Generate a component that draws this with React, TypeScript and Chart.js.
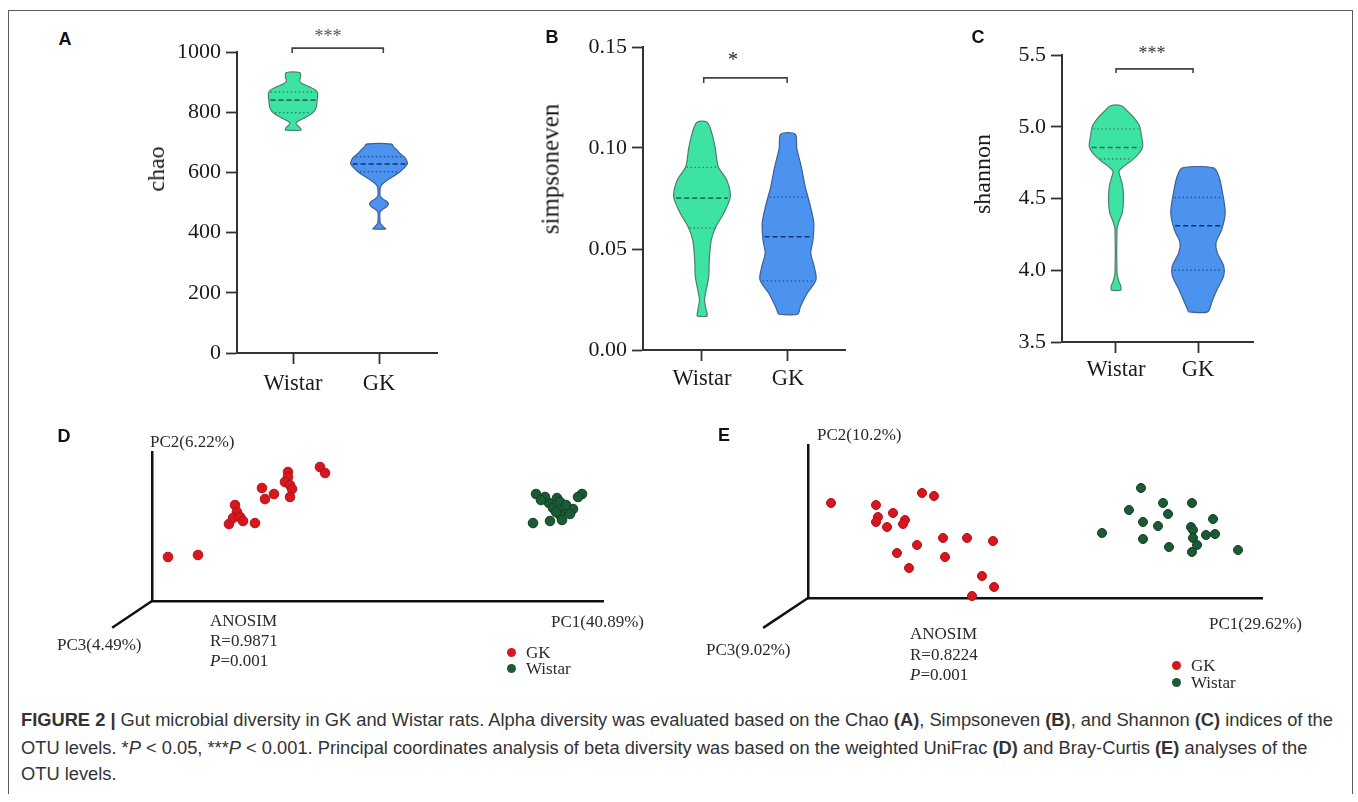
import React, { useEffect, useRef } from 'react';
import { Chart, registerables } from 'chart.js';
Chart.register(...registerables);

const SERIF = "'Liberation Serif', 'Times New Roman', Times, serif";
const SANS = "'Liberation Sans', Arial, Helvetica, sans-serif";

// ---------- shared categories ----------
const groups = ['Wistar', 'GK'];
const groupPositions = [1, 2];

// ---------- Panel A : chao ----------
const chaoTicks = [0, 200, 400, 600, 800, 1000];
const chaoTickLabels = ['0', '200', '400', '600', '800', '1000'];
const chaoWistarLevels = [740, 748, 756, 764, 772, 782, 795, 807, 820, 835, 850, 865, 875, 885, 895, 905, 915, 931];
const chaoWistarDensity = [8, 7, 4.5, 3, 6, 12, 18.5, 22, 23.5, 24, 24.5, 24.5, 22, 16, 9, 6.5, 7.5, 7];
const chaoWistarQuartiles = [798, 840, 867];
const chaoGkLevels = [412, 420, 430, 440, 468, 477, 486, 495, 504, 513, 522, 540, 556, 566, 575, 591, 608, 628, 640, 652, 663, 674, 685, 694];
const chaoGkDensity = [6.5, 4, 1.5, 1, 1, 3.5, 7.5, 9.5, 7.5, 3.5, 1.2, 1, 2, 5, 8.5, 16.5, 23, 28.3, 27.5, 25, 21, 18, 14.5, 12.8];
const chaoGkQuartiles = [602, 628, 652];
const chaoBracketX = [0.99, 2.05];
const chaoBracketY = [1013, 997];

// ---------- Panel B : simpsoneven ----------
const simpsonTicks = [0, 0.05, 0.1, 0.15];
const simpsonTickLabels = ['0.00', '0.05', '0.10', '0.15'];
const simpsonWistarLevels = [0.0168, 0.0198, 0.0248, 0.0297, 0.0363, 0.0446, 0.0545, 0.0611, 0.0677, 0.0759, 0.0842, 0.0907, 0.0998, 0.107, 0.1127];
const simpsonWistarDensity = [5, 4.2, 2.5, 4.2, 6.7, 7.3, 9.3, 14, 21.7, 28.3, 24.7, 16.3, 13.3, 10, 5];
const simpsonWistarQuartiles = [0.0604, 0.0752, 0.0904];
const simpsonGkLevels = [0.0177, 0.0215, 0.0281, 0.0347, 0.0413, 0.0479, 0.0545, 0.0627, 0.071, 0.0809, 0.0907, 0.0998, 0.1068];
const simpsonGkDensity = [9.5, 12.5, 19.2, 28, 26.2, 22.8, 25, 25.8, 22.5, 17.2, 13.3, 8.8, 7.2];
const simpsonGkQuartiles = [0.0342, 0.0561, 0.0757];
const simpsonBracketX = [1.02, 1.99];
const simpsonBracketY = [0.1347, 0.1322];

// ---------- Panel C : shannon ----------
const shannonTicks = [3.5, 4.0, 4.5, 5.0, 5.5];
const shannonTickLabels = ['3.5', '4.0', '4.5', '5.0', '5.5'];
const shannonWistarLevels = [3.861, 3.891, 3.926, 3.984, 4.285, 4.331, 4.401, 4.493, 4.585, 4.644, 4.69, 4.724, 4.771, 4.817, 4.863, 4.933, 5.002, 5.06, 5.106, 5.146];
const shannonWistarDensity = [4.7, 4.7, 2.7, 1, 1, 2.5, 6.3, 7.5, 6.7, 4.5, 3, 7.8, 16.7, 23.3, 26.7, 25.5, 23.7, 18.3, 11.7, 5.5];
const shannonWistarQuartiles = [4.775, 4.855, 4.985];
const shannonGkLevels = [3.71, 3.787, 3.868, 3.961, 4.03, 4.123, 4.192, 4.285, 4.401, 4.54, 4.655, 4.713];
const shannonGkDensity = [9.5, 14.2, 19.2, 25.7, 25.7, 19.2, 18, 23.8, 27.2, 24.5, 20.8, 15.5];
const shannonGkQuartiles = [4.0, 4.31, 4.507];
const shannonBracketX = [1.0, 1.94];
const shannonBracketY = [5.403, 5.375];

// ---------- Panel D : weighted UniFrac PCoA ----------
const unifracGkPC1 = [-0.2787, -0.2388, -0.1976, -0.1896, -0.187, -0.1922, -0.1829, -0.1789, -0.163, -0.1537, -0.1497, -0.1377, -0.1191, -0.1191, -0.1231, -0.1164, -0.1137, -0.1164, -0.0765, -0.0698];
const unifracGkPC2 = [-0.0614, -0.0574, 0.005, 0.0433, 0.0292, 0.0171, 0.0191, 0.0111, 0.007, 0.0775, 0.0553, 0.0654, 0.1097, 0.0996, 0.0896, 0.0835, 0.0755, 0.0594, 0.1198, 0.1077];
const unifracWistarPC1 = [0.2109, 0.2721, 0.2388, 0.2282, 0.2428, 0.2335, 0.2468, 0.2601, 0.2428, 0.2295, 0.2069, 0.2228, 0.2508, 0.2375, 0.2561, 0.2175, 0.2668, 0.2455];
const unifracWistarPC2 = [0.0654, 0.0654, 0.0573, 0.0473, 0.0493, 0.0372, 0.0332, 0.0352, 0.0231, 0.0111, 0.007, 0.0594, 0.0433, 0.0292, 0.0252, 0.0533, 0.0594, 0.0131];
const unifracRange = { x: [-0.3, 0.3], y: [-0.15, 0.15] };
const unifracPC3End = { x: -0.353, y: -0.204 };

// ---------- Panel E : Bray-Curtis PCoA ----------
const brayGkPC1 = [-0.3595, -0.2802, -0.2767, -0.2802, -0.2608, -0.2502, -0.2291, -0.2326, -0.1991, -0.178, -0.1621, -0.1198, -0.074, -0.2079, -0.2432, -0.1586, -0.222, -0.0934, -0.0722, -0.111];
const brayGkPC2 = [0.0484, 0.0431, 0.0118, -0.0013, -0.0144, 0.0222, 0.0039, -0.0065, 0.0745, 0.0667, -0.0431, -0.0431, -0.051, -0.0614, -0.0824, -0.0928, -0.1216, -0.1425, -0.1712, -0.1948];
const brayWistarPC1 = [0.1868, 0.2256, 0.2766, 0.1656, 0.2344, 0.3137, 0.1903, 0.2167, 0.2749, 0.2784, 0.1181, 0.3013, 0.3172, 0.2784, 0.1903, 0.2855, 0.2361, 0.2766, 0.3577];
const brayWistarPC2 = [0.0876, 0.0484, 0.0484, 0.0301, 0.0196, 0.0065, -0.0013, -0.0118, -0.0144, -0.0222, -0.0301, -0.0353, -0.0327, -0.0431, -0.0458, -0.0614, -0.0667, -0.0797, -0.0745];
const brayRange = { x: [-0.4, 0.4], y: [-0.2, 0.2] };
const brayPC3End = { x: -0.479, y: -0.278 };

// ---------- colours ----------
const GREEN_FILL = '#3de3a2';
const GREEN_STROKE = '#4f7f68';
const GREEN_MEDIAN = '#1d7550';
const GREEN_QUART = '#2a8a60';
const BLUE_FILL = '#4b93ee';
const BLUE_STROKE = '#3d5f93';
const BLUE_MEDIAN = '#15306a';
const BLUE_QUART = '#2252a8';
const RED_PT = '#d8161e';
const RED_EDGE = '#b01119';
const DKGREEN_PT = '#1b5a34';
const DKGREEN_EDGE = '#123f24';

const violinFillPlugin = {
  id: 'violinFill',
  beforeDatasetDraw(chart: any, args: any) {
    const ds = chart.data.datasets[args.index];
    const line = args.meta && args.meta.dataset;
    if (!ds || !ds.violinFill || !line) return;
    const ctx = chart.ctx;
    line.updateControlPoints(chart.chartArea, 'x');
    ctx.save();
    ctx.beginPath();
    line.path(ctx);
    ctx.closePath();
    ctx.fillStyle = ds.violinFill;
    ctx.fill();
    ctx.restore();
  },
};

function interp(levels: number[], dens: number[], v: number) {
  for (let i = 0; i < levels.length - 1; i++) {
    if (v >= levels[i] && v <= levels[i + 1]) {
      const t = (v - levels[i]) / (levels[i + 1] - levels[i]);
      return dens[i] + t * (dens[i + 1] - dens[i]);
    }
  }
  return dens[dens.length - 1];
}

type Violin = {
  levels: number[];
  density: number[];
  quartiles: number[];
  fill: string;
  stroke: string;
  median: string;
  quart: string;
};

type ViolinPanel = {
  violins: Violin[];
  widthScale: number;
  xMin: number;
  xMax: number;
  yMin: number;
  yMax: number;
  yTicks: number[];
  yTickLabels: string[];
  bracketX: number[];
  bracketY: number[];
  padding: { left: number; top: number; right: number; bottom: number };
  yAxisWidth: number;
  xAxisHeight: number;
  xLabelPad: number;
};

function violinConfig(o: ViolinPanel): any {
  const datasets: any[] = [];
  o.violins.forEach((v, i) => {
    const c = groupPositions[i];
    const left = v.levels.map((y, k) => ({ x: c - v.density[k] * o.widthScale, y }));
    const right = v.levels.map((y, k) => ({ x: c + v.density[k] * o.widthScale, y })).reverse();
    datasets.push({
      data: [...left, ...right, left[0]],
      borderColor: v.stroke,
      borderWidth: 1.2,
      pointRadius: 0,
      tension: 0.3,
      fill: false,
      violinFill: v.fill,
      order: 2,
    });
    v.quartiles.forEach((q, k) => {
      const hw = interp(v.levels, v.density, q) * o.widthScale * 0.93;
      datasets.push({
        data: [
          { x: c - hw, y: q },
          { x: c + hw, y: q },
        ],
        borderColor: k === 1 ? v.median : v.quart,
        borderWidth: k === 1 ? 1.6 : 1.4,
        borderDash: k === 1 ? [5, 3] : [1.5, 2.5],
        pointRadius: 0,
        tension: 0,
        fill: false,
        order: 1,
      });
    });
  });
  const [bx1, bx2] = o.bracketX;
  const [byTop, byFoot] = o.bracketY;
  datasets.push({
    data: [
      { x: bx1, y: byFoot },
      { x: bx1, y: byTop },
      { x: bx2, y: byTop },
      { x: bx2, y: byFoot },
    ],
    borderColor: '#444',
    borderWidth: 1.6,
    pointRadius: 0,
    tension: 0,
    fill: false,
    clip: false,
    order: 0,
  });
  const grid = {
    display: true,
    drawOnChartArea: false,
    drawTicks: true,
    tickLength: 11,
    tickColor: '#333',
    tickWidth: 1.8,
    color: '#333',
  };
  const border = { display: true, color: '#333', width: 2 };
  return {
    type: 'line',
    data: { datasets },
    options: {
      animation: false,
      responsive: false,
      events: [],
      layout: { padding: o.padding },
      plugins: { legend: { display: false }, tooltip: { enabled: false }, title: { display: false } },
      scales: {
        x: {
          type: 'linear',
          min: o.xMin,
          max: o.xMax,
          afterBuildTicks: (s: any) => {
            s.ticks = groupPositions.map((value) => ({ value }));
          },
          afterFit: (s: any) => {
            s.height = o.xAxisHeight;
          },
          ticks: {
            callback: (v: number) => groups[groupPositions.indexOf(v)],
            font: { family: SERIF, size: 22.5 },
            color: '#1a1a1a',
            padding: o.xLabelPad,
            maxRotation: 0,
            autoSkip: false,
          },
          grid,
          border,
        },
        y: {
          type: 'linear',
          min: o.yMin,
          max: o.yMax,
          afterBuildTicks: (s: any) => {
            s.ticks = o.yTicks.map((value) => ({ value }));
          },
          afterFit: (s: any) => {
            s.width = o.yAxisWidth;
          },
          ticks: {
            callback: (v: number) => o.yTickLabels[o.yTicks.indexOf(v)],
            font: { family: SERIF, size: 22 },
            color: '#1a1a1a',
            padding: 5,
            autoSkip: false,
          },
          grid,
          border,
        },
      },
    },
    plugins: [violinFillPlugin],
  };
}

type PcoaPanel = {
  gkX: number[];
  gkY: number[];
  wiX: number[];
  wiY: number[];
  range: { x: number[]; y: number[] };
  pc3End: { x: number; y: number };
  radius: number;
  padding: { left: number; top: number; right: number; bottom: number };
};

function pcoaConfig(o: PcoaPanel): any {
  const gk = o.gkX.map((x, i) => ({ x, y: o.gkY[i] }));
  const wi = o.wiX.map((x, i) => ({ x, y: o.wiY[i] }));
  const hidden = (isX: boolean, min: number, max: number) => ({
    type: 'linear',
    min,
    max,
    display: true,
    ticks: { display: false },
    grid: { display: false },
    border: { display: true, color: '#111', width: 2.5 },
    afterFit: (s: any) => {
      if (isX) s.height = 0;
      else s.width = 0;
    },
  });
  return {
    type: 'scatter',
    data: {
      datasets: [
        { label: 'GK', data: gk, backgroundColor: RED_PT, borderColor: RED_EDGE, borderWidth: 1, pointRadius: o.radius, clip: false },
        { label: 'Wistar', data: wi, backgroundColor: DKGREEN_PT, borderColor: DKGREEN_EDGE, borderWidth: 1, pointRadius: o.radius, clip: false },
        {
          label: 'PC3',
          data: [
            { x: o.range.x[0], y: o.range.y[0] },
            { x: o.pc3End.x, y: o.pc3End.y },
          ],
          showLine: true,
          borderColor: '#111',
          borderWidth: 2.5,
          pointRadius: 0,
          clip: false,
        },
      ],
    },
    options: {
      animation: false,
      responsive: false,
      events: [],
      layout: { padding: o.padding },
      plugins: { legend: { display: false }, tooltip: { enabled: false } },
      scales: {
        x: hidden(true, o.range.x[0], o.range.x[1]),
        y: hidden(false, o.range.y[0], o.range.y[1]),
      },
    },
  };
}

function ChartBox({ left, top, width, height, make }: { left: number; top: number; width: number; height: number; make: () => any }) {
  const ref = useRef<HTMLCanvasElement | null>(null);
  useEffect(() => {
    if (!ref.current) return;
    const chart = new Chart(ref.current, make());
    return () => chart.destroy();
  }, []);
  return (
    <canvas
      ref={ref}
      width={width}
      height={height}
      style={{ position: 'absolute', left, top, width, height, display: 'block' }}
    />
  );
}

function Txt({
  x,
  y,
  children,
  size = 17,
  family = SERIF,
  weight = 'normal',
  anchor = 'left',
  rotate = 0,
  color = '#2a2a2a',
}: {
  x: number;
  y: number;
  children: React.ReactNode;
  size?: number;
  family?: string;
  weight?: string;
  anchor?: 'left' | 'center';
  rotate?: number;
  color?: string;
}) {
  const tx = anchor === 'center' ? '-50%' : '0';
  return (
    <div
      style={{
        position: 'absolute',
        left: x,
        top: y,
        transform: `translate(${tx}, -50%)${rotate ? ` rotate(${rotate}deg)` : ''}`,
        fontFamily: family,
        fontSize: size,
        fontWeight: weight as any,
        lineHeight: 1,
        whiteSpace: 'nowrap',
        color,
      }}
    >
      {children}
    </div>
  );
}

function Dot({ x, y, color }: { x: number; y: number; color: string }) {
  return (
    <div
      style={{
        position: 'absolute',
        left: x - 4.5,
        top: y - 4.5,
        width: 9,
        height: 9,
        borderRadius: '50%',
        background: color,
      }}
    />
  );
}

export default function App() {
  const panelA: ViolinPanel = {
    violins: [
      { levels: chaoWistarLevels, density: chaoWistarDensity, quartiles: chaoWistarQuartiles, fill: GREEN_FILL, stroke: GREEN_STROKE, median: GREEN_MEDIAN, quart: GREEN_QUART },
      { levels: chaoGkLevels, density: chaoGkDensity, quartiles: chaoGkQuartiles, fill: BLUE_FILL, stroke: BLUE_STROKE, median: BLUE_MEDIAN, quart: BLUE_QUART },
    ],
    widthScale: 1 / 86,
    xMin: 0.3488,
    xMax: 2.6744,
    yMin: 0,
    yMax: 1000,
    yTicks: chaoTicks,
    yTickLabels: chaoTickLabels,
    bracketX: chaoBracketX,
    bracketY: chaoBracketY,
    padding: { left: 0, top: 52, right: 23, bottom: 17 },
    yAxisWidth: 137,
    xAxisHeight: 50,
    xLabelPad: 7,
  };
  const panelB: ViolinPanel = {
    violins: [
      { levels: simpsonWistarLevels, density: simpsonWistarDensity, quartiles: simpsonWistarQuartiles, fill: GREEN_FILL, stroke: GREEN_STROKE, median: GREEN_MEDIAN, quart: GREEN_QUART },
      { levels: simpsonGkLevels, density: simpsonGkDensity, quartiles: simpsonGkQuartiles, fill: BLUE_FILL, stroke: BLUE_STROKE, median: BLUE_MEDIAN, quart: BLUE_QUART },
    ],
    widthScale: 1 / 86,
    xMin: 0.314,
    xMax: 2.663,
    yMin: 0,
    yMax: 0.15,
    yTicks: simpsonTicks,
    yTickLabels: simpsonTickLabels,
    bracketX: simpsonBracketX,
    bracketY: simpsonBracketY,
    padding: { left: 0, top: 47, right: 35, bottom: 20 },
    yAxisWidth: 123,
    xAxisHeight: 50,
    xLabelPad: 5,
  };
  const panelC: ViolinPanel = {
    violins: [
      { levels: shannonWistarLevels, density: shannonWistarDensity, quartiles: shannonWistarQuartiles, fill: GREEN_FILL, stroke: GREEN_STROKE, median: GREEN_MEDIAN, quart: GREEN_QUART },
      { levels: shannonGkLevels, density: shannonGkDensity, quartiles: shannonGkQuartiles, fill: BLUE_FILL, stroke: BLUE_STROKE, median: BLUE_MEDIAN, quart: BLUE_QUART },
    ],
    widthScale: 1 / 82,
    xMin: 0.3415,
    xMax: 2.6707,
    yMin: 3.5,
    yMax: 5.5,
    yTicks: shannonTicks,
    yTickLabels: shannonTickLabels,
    bracketX: shannonBracketX,
    bracketY: shannonBracketY,
    padding: { left: 0, top: 55, right: 47, bottom: 28 },
    yAxisWidth: 102,
    xAxisHeight: 50,
    xLabelPad: 4,
  };
  const panelD: PcoaPanel = {
    gkX: unifracGkPC1,
    gkY: unifracGkPC2,
    wiX: unifracWistarPC1,
    wiY: unifracWistarPC2,
    range: unifracRange,
    pc3End: unifracPC3End,
    radius: 4.8,
    padding: { left: 112, top: 32, right: 77, bottom: 89 },
  };
  const panelE: PcoaPanel = {
    gkX: brayGkPC1,
    gkY: brayGkPC2,
    wiX: brayWistarPC1,
    wiY: brayWistarPC2,
    range: brayRange,
    pc3End: brayPC3End,
    radius: 4.5,
    padding: { left: 108, top: 25, right: 78, bottom: 92 },
  };

  return (
    <div style={{ position: 'absolute', left: 0, top: 0, width: 1358, height: 802, background: '#fff', overflow: 'hidden' }}>
      {/* frame */}
      <div
        style={{
          position: 'absolute',
          left: 8,
          top: 10,
          width: 1343,
          height: 783,
          borderTop: '1.5px solid #5a5a5a',
          borderLeft: '1.5px solid #5a5a5a',
          borderRight: '1.5px solid #5a5a5a',
        }}
      />

      <ChartBox left={100} top={0} width={360} height={420} make={() => violinConfig(panelA)} />
      <ChartBox left={520} top={0} width={360} height={420} make={() => violinConfig(panelB)} />
      <ChartBox left={960} top={0} width={340} height={420} make={() => violinConfig(panelC)} />
      <ChartBox left={40} top={420} width={640} height={270} make={() => pcoaConfig(panelD)} />
      <ChartBox left={700} top={420} width={640} height={270} make={() => pcoaConfig(panelE)} />

      {/* panel letters */}
      <Txt x={65} y={39} size={18} family={SANS} weight="bold" anchor="center" color="#111">A</Txt>
      <Txt x={552} y={37} size={18} family={SANS} weight="bold" anchor="center" color="#111">B</Txt>
      <Txt x={978} y={37} size={18} family={SANS} weight="bold" anchor="center" color="#111">C</Txt>
      <Txt x={64} y={436} size={18} family={SANS} weight="bold" anchor="center" color="#111">D</Txt>
      <Txt x={724} y={435} size={18} family={SANS} weight="bold" anchor="center" color="#111">E</Txt>

      {/* y axis titles */}
      <Txt x={156} y={169} size={24} anchor="center" rotate={-90} color="#1a1a1a">chao</Txt>
      <Txt x={550} y={169} size={25} anchor="center" rotate={-90} color="#1a1a1a">simpsoneven</Txt>
      <Txt x={982} y={174} size={24} anchor="center" rotate={-90} color="#1a1a1a">shannon</Txt>

      {/* significance stars */}
      <Txt x={328} y={36} size={18} anchor="center" color="#555">***</Txt>
      <Txt x={733} y={59} size={20} anchor="center" color="#222">*</Txt>
      <Txt x={1152} y={53} size={18} anchor="center" color="#333">***</Txt>

      {/* panel D texts */}
      <Txt x={150} y={441}>PC2(6.22%)</Txt>
      <Txt x={551} y={621}>PC1(40.89%)</Txt>
      <Txt x={57} y={644}>PC3(4.49%)</Txt>
      <Txt x={210} y={620}>ANOSIM</Txt>
      <Txt x={210} y={640}>R=0.9871</Txt>
      <Txt x={210} y={660}>
        <i>P</i>=0.001
      </Txt>
      <Dot x={511} y={652} color={RED_PT} />
      <Txt x={526} y={652}>GK</Txt>
      <Dot x={511} y={668} color={DKGREEN_PT} />
      <Txt x={526} y={668}>Wistar</Txt>

      {/* panel E texts */}
      <Txt x={817} y={434}>PC2(10.2%)</Txt>
      <Txt x={1209} y={623}>PC1(29.62%)</Txt>
      <Txt x={706} y={649}>PC3(9.02%)</Txt>
      <Txt x={910} y={633}>ANOSIM</Txt>
      <Txt x={910} y={654}>R=0.8224</Txt>
      <Txt x={910} y={674}>
        <i>P</i>=0.001
      </Txt>
      <Dot x={1176} y={665} color={RED_PT} />
      <Txt x={1191} y={665}>GK</Txt>
      <Dot x={1176} y={682} color={DKGREEN_PT} />
      <Txt x={1191} y={682}>Wistar</Txt>

      {/* caption */}
      <Txt x={21} y={720} size={18.3} family={SANS} color="#333">
        <b>FIGURE 2 |</b> Gut microbial diversity in GK and Wistar rats. Alpha diversity was evaluated based on the Chao <b>(A)</b>, Simpsoneven <b>(B)</b>, and Shannon <b>(C)</b> indices of the
      </Txt>
      <Txt x={21} y={748} size={18.3} family={SANS} color="#333">
        OTU levels. *<i>P</i> &lt; 0.05, ***<i>P</i> &lt; 0.001. Principal coordinates analysis of beta diversity was based on the weighted UniFrac <b>(D)</b> and Bray-Curtis <b>(E)</b> analyses of the
      </Txt>
      <Txt x={21} y={774} size={18.3} family={SANS} color="#333">
        OTU levels.
      </Txt>
    </div>
  );
}
